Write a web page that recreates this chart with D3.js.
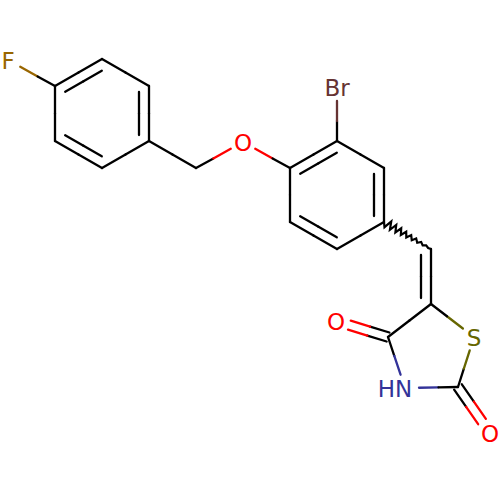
<!DOCTYPE html>
<html>
<head>
<meta charset="utf-8">
<script src="https://cdnjs.cloudflare.com/ajax/libs/d3/7.8.5/d3.min.js"></script>
<style>
html, body { margin: 0; padding: 0; background: white; }
svg { display: block; }
</style>
</head>
<body>
<div id="container"></div>
<script>
// Molecule, positions in drawing units
const atomElement = ["F", "C", "C", "C", "C", "C", "C", "C", "O", "C", "C", "Br", "C", "C", "C", "C", "C", "C", "C", "O", "N", "C", "O", "S"];
const atomX = [8, 55, 102, 149, 149, 102, 55, 196, 243, 290, 337, 337, 384, 384, 337, 290, 431, 431, 388, 336, 405, 458, 490, 474];
const atomY = [60, 86, 59, 86, 141, 168, 141, 168, 142, 168, 141, 87, 168, 222, 249, 222, 249, 304, 337, 321, 388, 387, 433, 337];

// bonds: atom index pairs, order 1 plain, 2 double, 3 wavy
const bondFrom = [0, 1, 2, 3, 4, 5, 6, 4, 7, 8, 9, 10, 10, 12, 13, 14, 15, 13, 16, 17, 18, 18, 20, 21, 21, 23];
const bondTo = [1, 2, 3, 4, 5, 6, 1, 7, 8, 9, 10, 11, 12, 13, 14, 15, 9, 16, 17, 18, 19, 20, 21, 22, 23, 17];
const bondOrder = [1, 2, 1, 2, 1, 2, 1, 1, 1, 1, 2, 1, 1, 2, 1, 2, 1, 3, 2, 1, 2, 1, 1, 2, 1, 1];
// which side the second line goes: 1 or -1 inner line, 0 both lines centred
const bondSide = [0, 1, 0, 1, 0, 1, 0, 0, 0, 0, 1, 0, 0, 1, 0, 1, 0, 0, 1, 0, 0, 0, 0, 0, 0, 0];

const elementColor = { C: "#000000", O: "#ff0000", N: "#333399", S: "#666600", Br: "#663333", F: "#996600" };
const elementText = { F: "F", O: "O", N: "HN", S: "S", Br: "Br" };

const width = 500;
const height = 500;
const labelGap = 14;
const strokeW = 2.3;

const x = d3.scaleLinear().domain([0, 500]).range([0, width]);
const y = d3.scaleLinear().domain([0, 500]).range([0, height]);

const svg = d3.select("#container")
    .append("svg")
    .attr("width", width)
    .attr("height", height)
    .style("background-color", "white");

const atoms = atomElement.map((el, i) => ({ el, px: x(atomX[i]), py: y(atomY[i]) }));

// trims a bond so it stops short of the atom labels
function visibleEnds(a, b) {
    const dx = b.px - a.px, dy = b.py - a.py;
    const len = Math.hypot(dx, dy);
    const ux = dx / len, uy = dy / len;
    const ga = a.el === "C" ? 0 : labelGap;
    const gb = b.el === "C" ? 0 : labelGap;
    return {
        x1: a.px + ux * ga, y1: a.py + uy * ga,
        x2: b.px - ux * gb, y2: b.py - uy * gb,
        ux, uy, len
    };
}

// one line, half in each atom's colour
function drawHalfLines(g, x1, y1, x2, y2, c1, c2) {
    const mx = (x1 + x2) / 2, my = (y1 + y2) / 2;
    [[x1, y1, mx, my, c1], [mx, my, x2, y2, c2]].forEach(s => {
        g.append("line")
            .attr("x1", s[0]).attr("y1", s[1])
            .attr("x2", s[2]).attr("y2", s[3])
            .attr("stroke", s[4]);
    });
}

const bondLayer = svg.append("g")
    .attr("stroke-width", strokeW)
    .attr("stroke-linecap", "round")
    .attr("fill", "none");

bondFrom.forEach((f, i) => {
    const a = atoms[f], b = atoms[bondTo[i]];
    const e = visibleEnds(a, b);
    const c1 = elementColor[a.el], c2 = elementColor[b.el];
    const nx = -e.uy, ny = e.ux;

    if (bondOrder[i] === 1) {
        drawHalfLines(bondLayer, e.x1, e.y1, e.x2, e.y2, c1, c2);
    } else if (bondOrder[i] === 3) {
        // zigzag, narrowing towards the far atom
        const teeth = 18;
        let pts = [[e.x1, e.y1]];
        for (let k = 1; k < teeth; k++) {
            const t = k / teeth;
            const s = (k % 2 ? 1 : -1) * (4.2 * (1 - t) + 0.3);
            pts.push([e.x1 + e.ux * t * e.len + nx * s, e.y1 + e.uy * t * e.len + ny * s]);
        }
        pts.push([e.x2, e.y2]);
        bondLayer.append("path")
            .attr("d", d3.line()(pts))
            .attr("stroke", "#000")
            .attr("stroke-width", 2.2)
            .attr("stroke-linejoin", "miter");
    } else if (bondSide[i] === 0) {
        // both lines centred on the bond, for C=O
        [-4.7, 4.7].forEach(off => {
            drawHalfLines(bondLayer,
                e.x1 + nx * off, e.y1 + ny * off,
                e.x2 + nx * off, e.y2 + ny * off, c1, c2);
        });
    } else {
        drawHalfLines(bondLayer, e.x1, e.y1, e.x2, e.y2, c1, c2);
        const off = 10 * bondSide[i];
        const trim = 6;
        drawHalfLines(bondLayer,
            e.x1 + nx * off + e.ux * trim, e.y1 + ny * off + e.uy * trim,
            e.x2 + nx * off - e.ux * trim, e.y2 + ny * off - e.uy * trim, c1, c2);
    }
});

// atom labels
svg.append("g")
    .selectAll("text")
    .data(atoms.filter(d => d.el !== "C"))
    .join("text")
    .attr("x", d => d.el === "N" ? d.px - 10 : d.px)
    .attr("y", d => d.py + 8.5)
    .attr("text-anchor", "middle")
    .attr("font-family", "DejaVu Sans")
    .attr("font-size", 23)
    .attr("fill", d => elementColor[d.el])
    .text(d => elementText[d.el]);
</script>
</body>
</html>
